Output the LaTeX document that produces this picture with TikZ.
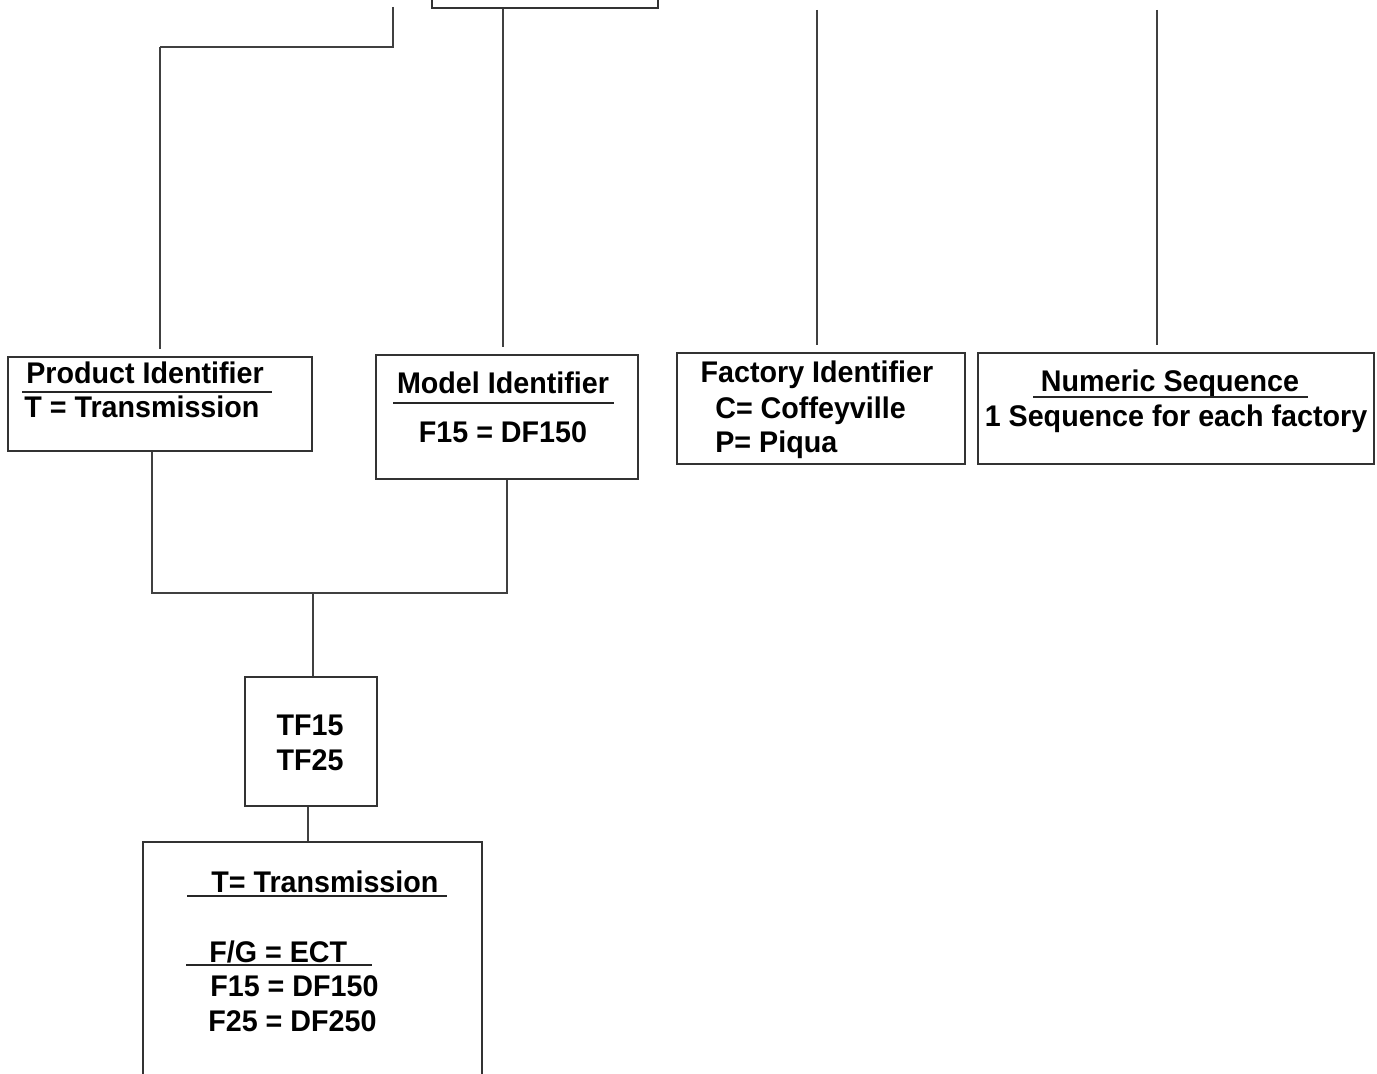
\documentclass[tikz,border=0pt]{standalone}
\usepackage{fontspec}
\setmainfont[FakeStretch=0.96]{Liberation Sans}
\usetikzlibrary{fit}

\tikzset{
  box/.style={draw=black!80,line width=0.8pt,inner sep=0pt},
  wire/.style={draw=black!75,line width=0.6pt},
  feed/.style={wire,shorten >=4pt},
  label/.style={font=\fontsize{17}{20}\selectfont\bfseries,inner sep=0pt},
  rule/.style={draw=black!85,line width=1.1pt}
}

\begin{document}
\begin{tikzpicture}[x=0.02cm,y=-0.02cm]
  \clip (0,0) rectangle (1377,1074);

  % Boxes
  \node[box,fit={(432,-20) (658,8)}] (topbox) {};
  \node[box,fit={(8,357) (312,451)}] (prodbox) {};
  \node[box,fit={(376,355) (638,479)}] (modelbox) {};
  \node[box,fit={(677,353) (965,464)}] (factbox) {};
  \node[box,fit={(978,353) (1374,464)}] (numbox) {};
  \node[box,fit={(245,677) (377,806)}] (tfbox) {};
  \node[box,fit={(143,842) (482,1100)}] (keybox) {};

  % Feeds from above
  \coordinate (prodfeed) at (393,7);
  \coordinate (prodbend) at (160,47);
  \coordinate (factfeed) at (817,10);
  \coordinate (numfeed) at (1157,10);
  \draw[wire] (prodfeed) |- (prodbend);
  \draw[feed] (prodbend) -- (prodbend |- prodbox.north);
  \draw[feed] (topbox.south -| 503,0) -- (modelbox.north -| 503,0);
  \draw[feed] (factfeed) -- (factfeed |- factbox.north);
  \draw[feed] (numfeed) -- (numfeed |- numbox.north);

  % Join below
  \coordinate (joinL) at (152,593);
  \coordinate (joinR) at (507,593);
  \coordinate (join) at (313,593);
  \draw[wire] (prodbox.south -| joinL) -- (joinL) -- (joinR) -- (modelbox.south -| joinR);
  \draw[wire] (join) -- (tfbox.north -| join);
  \draw[wire] (tfbox.south -| 308,0) -- (keybox.north -| 308,0);

  % Product identifier
  \node[label,anchor=base west] (prodhead) at (26,384) {Product Identifier};
  \draw[rule] (22,392) -- (272,392);
  \node[label,anchor=base west] (prodtext) at (24,418) {T = Transmission};

  % Model identifier
  \node[label,anchor=base] (modelhead) at (503,394) {Model Identifier};
  \draw[rule] (393,403) -- (614,403);
  \node[label,anchor=base] (modeltext) at (503,443) {F15 = DF150};

  % Factory identifier
  \node[label,anchor=base] (facthead) at (817,383) {Factory Identifier};
  \node[label,anchor=base west] (factC) at (715,419) {C= Coffeyville};
  \node[label,anchor=base west] (factP) at (715,453) {P= Piqua};

  % Numeric sequence
  \node[label,anchor=base] (numhead) at (1170,392) {Numeric Sequence};
  \draw[rule] (1033,397) -- (1308,397);
  \node[label,anchor=base] (numtext) at (1176,427) {1 Sequence for each factory};

  % Part numbers
  \node[label,anchor=base] (tf15) at (310,735) {TF15};
  \node[label,anchor=base] (tf25) at (310,770) {TF25};

  % Key
  \node[label,anchor=base west] (keyhead) at (211,892) {T= Transmission};
  \draw[rule] (187,896) -- (447,896);
  \node[label,anchor=base west] (keyfg) at (209,962) {F/G = ECT};
  \draw[rule] (186,965) -- (372,965);
  \node[label,anchor=base west] (keyf15) at (210,996) {F15 = DF150};
  \node[label,anchor=base west] (keyf25) at (208,1031) {F25 = DF250};
\end{tikzpicture}
\end{document}
